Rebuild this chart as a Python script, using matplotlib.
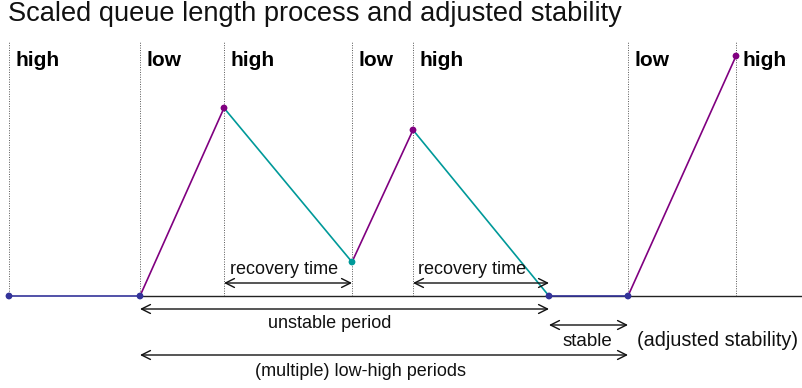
import matplotlib
matplotlib.use("Agg")
import matplotlib.pyplot as plt

plt.rcParams["font.family"] = ["Liberation Sans", "DejaVu Sans"]

# switch times between "high" and "low" regimes
switch_times = [0, 131, 215, 343, 404, 619, 727]
regimes = ["high", "low", "high", "low", "high", "low", "high"]

# queue length path (time, level) and segment phases
path_t = [0, 131, 215, 343, 404, 540, 619, 727]
path_q = [0, 0, 188, 34, 166, 0, 0, 240]
phases = ["stable", "rise", "fall", "rise", "fall", "stable", "rise"]

phase_colors = {"stable": "#333399", "rise": "#800080", "fall": "#009999"}

# annotated intervals
recovery = [(215, 343), (404, 540)]
unstable = (131, 540)
stable = (540, 619)
multi = (131, 619)

fig = plt.figure(figsize=(8.03, 3.88), dpi=100)
ax = fig.add_axes([0, 0, 1, 1])
ax.set_xlim(-9, 794)
ax.set_ylim(-92, 296)
ax.axis("off")

fig.text(0.01, 1 - 14 / 388, "Scaled queue length process and adjusted stability",
         fontsize=19.6, va="center", ha="left", color="#111111")

# regime boundaries and labels
for t, name in zip(switch_times, regimes):
    ax.plot([t, t], [0, 254], color="#555555", linestyle=(0, (1, 1.5)), linewidth=0.7)
    ax.text(t + 7, 236, name, fontsize=15, fontweight="bold", va="center", ha="left")

# baseline
ax.plot([131, 794], [0, 0], color="#222222", linewidth=1.0)

# queue process
for i, ph in enumerate(phases):
    ax.plot(path_t[i:i + 2], path_q[i:i + 2], color=phase_colors[ph], linewidth=1.2)
point_colors = ["#333399", "#333399", "#800080", "#009999", "#800080",
                "#333399", "#333399", "#800080"]
ax.scatter(path_t, path_q, s=24, c=point_colors, zorder=5, linewidths=0)


def span(a, b, y, text, ty, tx, size=13):
    ax.annotate("", xy=(a, y), xytext=(b, y),
                arrowprops=dict(arrowstyle="<->", color="#111111", lw=1.0,
                                shrinkA=0, shrinkB=0, mutation_scale=16))
    ax.text(tx, ty, text, fontsize=size, ha="center", va="center", color="#111111")


span(*recovery[0], 13, "recovery time", 26, 275)
span(*recovery[1], 13, "recovery time", 26, 463)
span(*unstable, -13, "unstable period", -28, 321)
span(*stable, -29, "stable", -45, 578, size=13.5)
span(*multi, -59, "(multiple) low-high periods", -75, 352)
ax.text(628, -45, "(adjusted stability)", fontsize=14.3, ha="left", va="center",
        color="#111111")

fig.savefig("out.png", dpi=100)
